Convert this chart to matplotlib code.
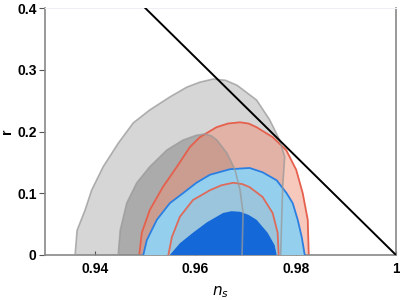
import matplotlib
matplotlib.use("Agg")
import matplotlib.pyplot as plt

# contour boundaries (n_s, r), ordered left->right over the top
gray_outer_ns = [0.9360, 0.9364, 0.9380, 0.9393, 0.9416, 0.9446, 0.9476, 0.9509, 0.9549, 0.9583,
                 0.9609, 0.9635, 0.9660, 0.9683, 0.9722, 0.9748, 0.9768, 0.9778, 0.9774, 0.9772, 0.9770]
gray_outer_r = [0.0, 0.040, 0.073, 0.105, 0.143, 0.181, 0.214, 0.235, 0.256, 0.272,
                0.280, 0.285, 0.283, 0.275, 0.251, 0.219, 0.186, 0.159, 0.110, 0.057, 0.0]

gray_inner_ns = [0.9446, 0.9450, 0.9463, 0.9483, 0.9509, 0.9543, 0.9575, 0.9602, 0.9619, 0.9632,
                 0.9643, 0.9663, 0.9679, 0.9689, 0.9695, 0.9693]
gray_inner_r = [0.0, 0.040, 0.084, 0.117, 0.143, 0.170, 0.186, 0.194, 0.196, 0.193,
                0.186, 0.165, 0.138, 0.105, 0.068, 0.0]

red_outer_ns = [0.9488, 0.9493, 0.9509, 0.9535, 0.9563, 0.9589, 0.9609, 0.9642, 0.9665, 0.9689,
                0.9706, 0.9722, 0.9754, 0.9781, 0.9801, 0.9814, 0.9824, 0.9826]
red_outer_r = [0.0, 0.036, 0.073, 0.110, 0.143, 0.175, 0.191, 0.207, 0.213, 0.215,
               0.213, 0.207, 0.191, 0.170, 0.138, 0.100, 0.057, 0.0]

red_inner_ns = [0.9546, 0.9553, 0.9569, 0.9595, 0.9629, 0.9652, 0.9675, 0.9693, 0.9708, 0.9734,
                0.9754, 0.9764, 0.9766]
red_inner_r = [0.0, 0.029, 0.062, 0.089, 0.105, 0.113, 0.117, 0.115, 0.110, 0.094,
               0.068, 0.036, 0.0]

blue_outer_ns = [0.9496, 0.9503, 0.9523, 0.9549, 0.9575, 0.9602, 0.9629, 0.9669, 0.9708, 0.9734,
                 0.9762, 0.9782, 0.9794, 0.9804, 0.9812, 0.9818]
blue_outer_r = [0.0, 0.024, 0.057, 0.084, 0.100, 0.117, 0.130, 0.139, 0.141, 0.134,
                0.121, 0.100, 0.084, 0.057, 0.029, 0.0]

blue_inner_ns = [0.9549, 0.9569, 0.9595, 0.9623, 0.9655, 0.9672, 0.9689, 0.9706, 0.9722, 0.9744,
                 0.9758, 0.9762]
blue_inner_r = [0.0, 0.019, 0.036, 0.053, 0.068, 0.071, 0.070, 0.065, 0.057, 0.036,
                0.016, 0.0]

line_ns = [0.95, 1.0]
line_r = [0.4, 0.0]

x_ticks = [0.94, 0.96, 0.98, 1.0]
x_labels = ["0.94", "0.96", "0.98", "1"]
y_ticks = [0, 0.1, 0.2, 0.3, 0.4]
y_labels = ["0", "0.1", "0.2", "0.3", "0.4"]

plt.rcParams['font.family'] = ['Liberation Sans', 'DejaVu Sans']

fig = plt.figure(figsize=(4, 3), dpi=100)
ax = fig.add_axes([0.1125, 0.15, 0.8775, 0.823])

# gray contours
ax.fill(gray_outer_ns, gray_outer_r, color='#d6d6d6', lw=0, zorder=1)
ax.fill(gray_inner_ns, gray_inner_r, color='#ababab', lw=0, zorder=1)

# red contours
ax.fill(red_outer_ns, red_outer_r, color=(0.94, 0.55, 0.45), alpha=0.48, lw=0, zorder=2)
ax.plot(red_outer_ns, red_outer_r, color='#e5604d', lw=1.3, zorder=2, solid_joinstyle='round')

# blue contours
ax.fill(blue_outer_ns, blue_outer_r, color='#94d0ee', lw=0, zorder=3)
ax.fill(red_inner_ns, red_inner_r, color=(0.75, 0.55, 0.5), alpha=0.15, lw=0, zorder=3)
ax.plot(red_inner_ns, red_inner_r, color='#dd6a5a', lw=1.3, zorder=3, solid_joinstyle='round')
ax.fill(blue_inner_ns, blue_inner_r, color='#1468d8', lw=0, zorder=4)
ax.plot(blue_outer_ns, blue_outer_r, color='#2b7fe2', lw=1.3, zorder=4, solid_joinstyle='round')

# gray outlines sit on top of everything
ax.plot(gray_outer_ns, gray_outer_r, color='#999999', lw=1.2, alpha=0.75, zorder=5, solid_joinstyle='round')
ax.plot(gray_inner_ns, gray_inner_r, color='#999999', lw=1.2, alpha=0.75, zorder=5, solid_joinstyle='round')

ax.plot(line_ns, line_r, color='black', lw=1.4, zorder=6)

ax.set_xlim(0.93, 1.0)
ax.set_ylim(0, 0.4)
ax.set_xticks(x_ticks)
ax.set_xticklabels(x_labels, fontsize=10, fontweight='bold')
ax.set_yticks(y_ticks)
ax.set_yticklabels(y_labels, fontsize=10, fontweight='bold')
ax.tick_params(axis='x', direction='in', length=3, width=0.8, color='#555555', pad=5)
ax.tick_params(axis='y', direction='out', length=4, width=0.8, color='#555555', pad=2)

for side in ['left', 'bottom', 'right']:
    ax.spines[side].set_color('#888888')
    ax.spines[side].set_linewidth(1.2)
ax.spines['top'].set_color('#eef0f6')
ax.spines['top'].set_linewidth(0.8)

ax.set_xlabel('$n_s$', fontsize=11, labelpad=6)
ax.set_ylabel('r', fontsize=10, fontweight='bold', labelpad=2)

fig.savefig('out.png', dpi=100)
